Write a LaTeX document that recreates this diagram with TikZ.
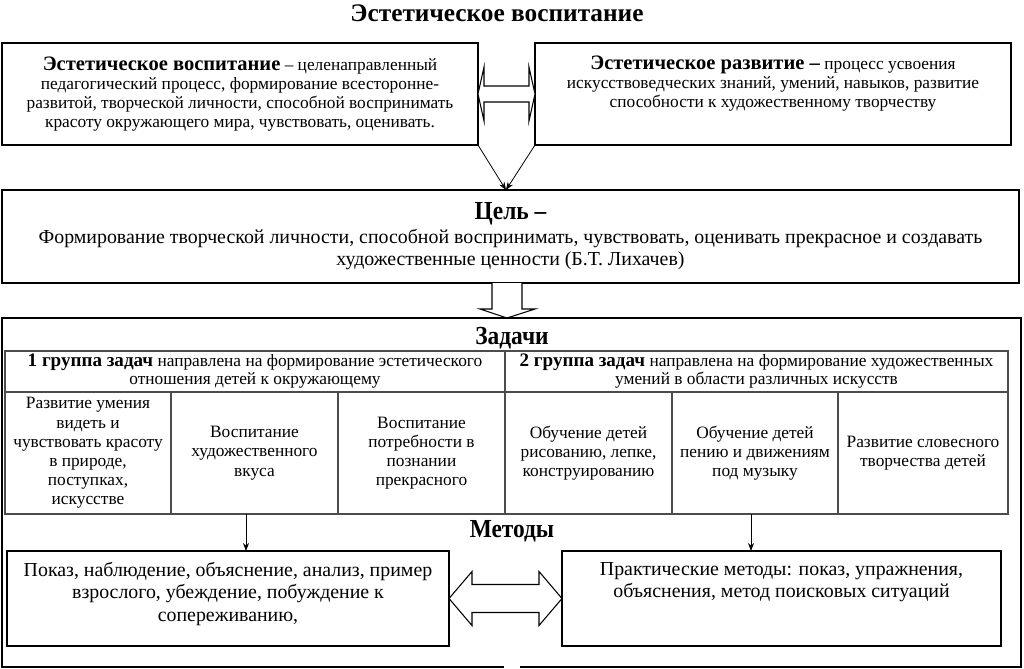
\documentclass[tikz,border=0pt]{standalone}
\usepackage{fontspec}
\setmainfont{Liberation Serif}
\newfontfamily\narrowfont[FakeStretch=0.9]{Liberation Serif}
\usetikzlibrary{arrows.meta}
\tikzset{
    every node/.style={inner sep=0pt, outer sep=0pt, align=center}
}
\tikzset{
    box/.style={draw, line width=1.1pt, rectangle},
    cell/.style={draw=black!70, line width=0.9pt, rectangle,
    	font=\fontsize{13}{14.4}\selectfont},
    hollow/.style={draw, line width=0.8pt, fill=white, line join=miter},
    head/.style={font=\narrowfont\bfseries\fontsize{19.5}{20}\selectfont},
    deftext/.style={font=\fontsize{13}{14.3}\selectfont},
    grouptext/.style={font=\fontsize{13}{13.5}\selectfont},
    plaintext/.style={font=\fontsize{14.9}{16.8}\selectfont}
}
\tikzset{
    every edge/.append style={line width=0.6pt, -{Stealth[length=6pt,width=4.5pt]}}
}

\begin{document}
\begin{tikzpicture}[x=0.75pt, y=-0.75pt]
	\useasboundingbox (0,0) rectangle (1024,668);
	\node (title) [font=\bfseries\fontsize{19}{20}\selectfont] at (497,13)
		{Эстетическое воспитание};
	
	\node (defA) [box, deftext, minimum width=357pt, minimum height=76.5pt]
		at (240,94) {\textbf{\fontsize{15.4}{14.3}\selectfont Эстетическое воспитание} – целенаправленный\\
		педагогический процесс, формирование всесторонне-\\
		развитой, творческой личности, способной воспринимать\\
		красоту окружающего мира, чувствовать, оценивать.};
	\node (defB) [box, minimum width=357pt, minimum height=76.5pt] at (773,94) {};
	\node (defBtext) [deftext, anchor=north] at (773,56)
		{\textbf{\fontsize{15.4}{14.3}\selectfont Эстетическое развитие –} процесс усвоения\\
		искусствоведческих знаний, умений, навыков, развитие\\
		способности к художественному творчеству};
	
	\node (goal) [box, plaintext, minimum width=762.75pt, minimum height=69.75pt]
		at (510.5,236.5) {{\narrowfont\bfseries\fontsize{19.5}{20}\selectfont Цель –}\\[1pt]
		Формирование творческой личности, способной воспринимать, чувствовать, оценивать прекрасное и создавать\\
		художественные ценности (Б.Т. Лихачев)};
	\coordinate (meet) at (506,190);
	
	\draw[hollow] (defA.east) -- ++(6,-27) -- ++(0,19) -- ++(45,0) -- ++(0,-19)
		-- ++(6,27) -- ++(-6,27) -- ++(0,-19) -- ++(-45,0) -- ++(0,19) -- cycle;
	\draw (defA.south east) edge (meet);
	\draw (defB.south west) edge (meet);
	
	\coordinate (down) at (507,283);
	\draw[hollow] (down) ++(-15,0) -- ++(0,26) -- ++(-12,0) -- ++(27,9)
		-- ++(28,-9) -- ++(-13,0) -- ++(0,-26);
	
	\draw[box] (504,667) -| (2,318) -| (1021,667) -- (520,667);
	\node (tasks) [head] at (512,338) {Задачи};
	
	\node (g1) [cell, grouptext, minimum width=375pt, minimum height=30.75pt] at (255,371.5)
		{\textbf{\fontsize{14.3}{13.5}\selectfont 1 группа задач} направлена на формирование эстетического\\
		отношения детей к окружающему};
	\node (g2) [cell, grouptext, minimum width=377.25pt, minimum height=30.75pt] at (756.5,371.5)
		{\textbf{\fontsize{14.3}{13.5}\selectfont 2 группа задач} направлена на формирование художественных\\
		умений в области различных искусств};
	
	\node (c1) [cell, minimum width=124.5pt, minimum height=91.5pt] at (88,453)
		{Развитие умения\\ видеть и\\ чувствовать красоту\\ в природе,\\ поступках,\\ искусстве};
	\node (c2) [cell, minimum width=125.25pt, minimum height=91.5pt] at (254.5,453)
		{Воспитание\\ художественного\\ вкуса};
	\node (c3) [cell, minimum width=125.25pt, minimum height=91.5pt] at (421.5,453)
		{Воспитание\\ потребности в\\ познании\\ прекрасного};
	\node (c4) [cell, minimum width=125.25pt, minimum height=91.5pt] at (588.5,453)
		{Обучение детей\\ рисованию, лепке,\\ конструированию};
	\node (c5) [cell, minimum width=124.5pt, minimum height=91.5pt] at (755,453)
		{Обучение детей\\ пению и движениям\\ под музыку};
	\node (c6) [cell, minimum width=127.5pt, minimum height=91.5pt] at (923,453)
		{Развитие словесного\\ творчества детей};
	
	\node (methods) [head] at (512,531) {Методы};
	\node (metL) [box, minimum width=331.5pt, minimum height=71.25pt] at (228,598.5) {};
	\node (metLtext) [plaintext, anchor=north] at (228,562)
		{Показ, наблюдение, объяснение, анализ, пример\\
		взрослого, убеждение, побуждение к\\ сопереживанию,};
	\node (metR) [box, minimum width=329.25pt, minimum height=71.25pt] at (781.5,598.5) {};
	\node (metRtext) [plaintext, anchor=north] at (781.5,562)
		{Практические методы: показ, упражнения,\\
		объяснения, метод поисковых ситуаций};
	
	\coordinate (tl) at (246,514);
	\coordinate (tr) at (751,514);
	\draw (tl) edge (tl |- metL.north);
	\draw (tr) edge (tr |- metR.north);
	
	\draw[hollow] (metL.east) -- ++(23,-27) -- ++(0,13) -- ++(67,0) -- ++(0,-13)
		-- ++(23,27) -- ++(-23,27) -- ++(0,-13) -- ++(-67,0) -- ++(0,13) -- cycle;
\end{tikzpicture}
\end{document}
